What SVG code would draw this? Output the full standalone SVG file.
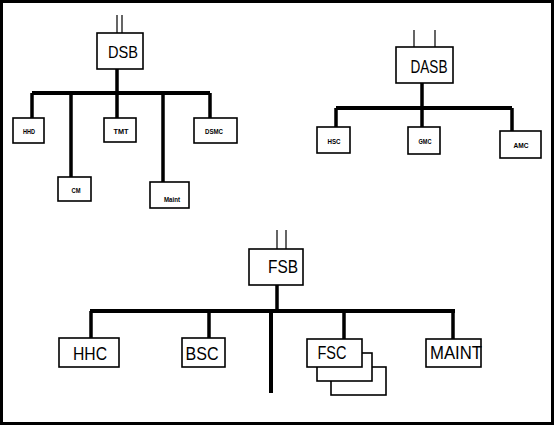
<svg xmlns="http://www.w3.org/2000/svg" width="554" height="425" viewBox="0 0 554 425">
<style>
.box{fill:#fff;stroke:#000;stroke-width:1.6}
.feed{stroke:#000;stroke-width:1.2;fill:none}
.bus{stroke:#000;stroke-width:4;fill:none}
.drop{stroke:#000;stroke-width:3.5;fill:none}
.big{font-family:"Liberation Sans",Arial,sans-serif;font-size:17px;fill:#000;text-anchor:middle}
.small{font-family:"Liberation Sans",Arial,sans-serif;font-size:7px;font-weight:bold;fill:#000;text-anchor:middle}
</style>
<rect x="1.5" y="1.5" width="551" height="422" fill="#fff" stroke="#000" stroke-width="3"/>
<g id="connectors">
<path class="feed" d="M117,15V33M122,15V33M414,30V47M435,30V47M277,230V249M286,230V249"/>
<path class="bus" d="M32,93H210M336,108H512M90,311H455"/>
<path class="drop" d="M117,69V118M32,93V118M71,93V177M163,93V182M210,93V118"/>
<path class="drop" d="M422,83V127M336,108V127M512,108V131"/>
<path class="drop" d="M277,285V311M91,311V338M209,311V338M344,311V339M453,311V339"/>
<path class="bus" d="M271,311V393"/>
</g>
<g id="DSB"><rect class="box" x="97" y="33" width="46" height="36"/><text class="big" x="123" y="58" textLength="30" lengthAdjust="spacingAndGlyphs">DSB</text></g>
<g id="HHD"><rect class="box" x="13" y="118" width="31" height="25"/><text class="small" x="29" y="134" textLength="12" lengthAdjust="spacingAndGlyphs">HHD</text></g>
<g id="CM"><rect class="box" x="58" y="177" width="33" height="24"/><text class="small" x="76" y="193" textLength="9" lengthAdjust="spacingAndGlyphs">CM</text></g>
<g id="TMT"><rect class="box" x="104" y="118" width="32" height="24"/><text class="small" x="121" y="134" textLength="15" lengthAdjust="spacingAndGlyphs">TMT</text></g>
<g id="Maint"><rect class="box" x="150" y="182" width="39" height="26"/><text class="small" x="172" y="202" textLength="16" lengthAdjust="spacingAndGlyphs">Maint</text></g>
<g id="DSMC"><rect class="box" x="194" y="118" width="43" height="25"/><text class="small" x="214" y="134" textLength="18" lengthAdjust="spacingAndGlyphs">DSMC</text></g>
<g id="DASB"><rect class="box" x="396" y="47" width="57" height="36"/><text class="big" x="429" y="73" style="font-size:18px" textLength="37" lengthAdjust="spacingAndGlyphs">DASB</text></g>
<g id="HSC"><rect class="box" x="317" y="127" width="33" height="26"/><text class="small" x="334" y="144" textLength="13" lengthAdjust="spacingAndGlyphs">HSC</text></g>
<g id="GMC"><rect class="box" x="408" y="127" width="32" height="27"/><text class="small" x="425" y="144" textLength="13" lengthAdjust="spacingAndGlyphs">GMC</text></g>
<g id="AMC"><rect class="box" x="500" y="131" width="41" height="27"/><text class="small" x="521" y="148" textLength="15" lengthAdjust="spacingAndGlyphs">AMC</text></g>
<g id="FSB"><rect class="box" x="249" y="249" width="54" height="36"/><text class="big" x="283" y="273" style="font-size:18px" textLength="30" lengthAdjust="spacingAndGlyphs">FSB</text></g>
<g id="HHC"><rect class="box" x="59" y="338" width="60" height="29"/><text class="big" x="90" y="360" style="font-size:18px" textLength="34" lengthAdjust="spacingAndGlyphs">HHC</text></g>
<g id="BSC"><rect class="box" x="182" y="338" width="43" height="29"/><text class="big" x="202" y="360" style="font-size:18px" textLength="33" lengthAdjust="spacingAndGlyphs">BSC</text></g>
<g id="FSC"><rect class="box" x="331" y="367" width="55" height="28"/><rect class="box" x="317" y="353" width="55" height="28"/><rect class="box" x="307" y="339" width="55" height="28"/><text class="big" x="332" y="359" style="font-size:18px" textLength="29" lengthAdjust="spacingAndGlyphs">FSC</text></g>
<g id="MAINT"><rect class="box" x="426" y="339" width="55" height="28"/><text class="big" x="456" y="359" style="font-size:18px" textLength="52" lengthAdjust="spacingAndGlyphs">MAINT</text></g>
</svg>
